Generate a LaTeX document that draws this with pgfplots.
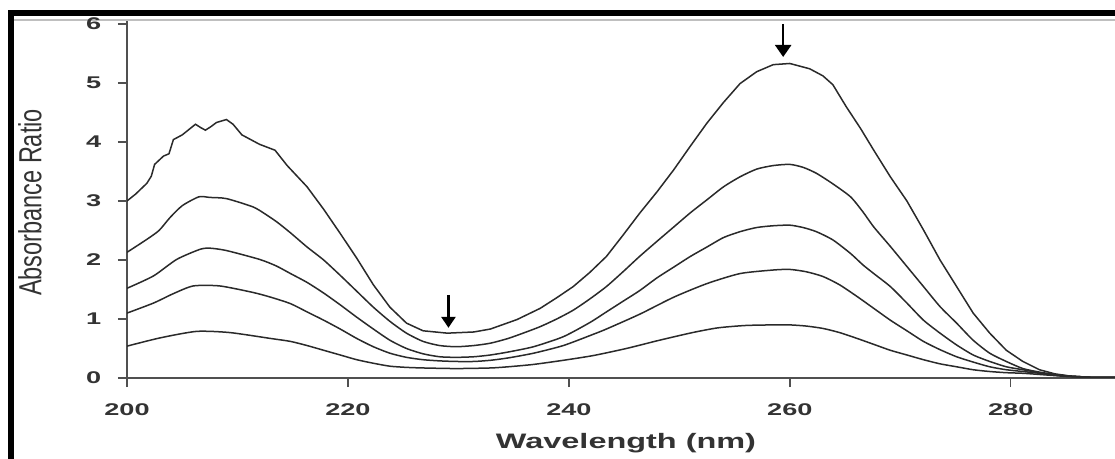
\documentclass[border=0pt]{standalone}
\usepackage{fontspec}
\setmainfont{Liberation Sans}
\usepackage{pgfplots}
\pgfplotsset{compat=1.18}
\usetikzlibrary{arrows.meta}
\definecolor{ln}{HTML}{2A2A2A}
\definecolor{ax}{HTML}{505050}
\begin{document}
\begin{tikzpicture}
\useasboundingbox (0,0) rectangle (1115bp,459bp);
\fill[white] (0,0) rectangle (1115bp,459bp);
% frame
\draw[gray!50, line width=2.5bp] (14bp,438.8bp) -- (1115bp,438.8bp);
\draw[black, line width=6bp] (11bp,0) -- (11bp,445.5bp) -- (1115bp,445.5bp);
\begin{axis}[
  at={(127bp,81bp)}, anchor=south west,
  scale only axis, width=988bp, height=357bp,
  xmin=200, xmax=289.44, ymin=0, ymax=6.05,
  axis x line=bottom, axis y line=left,
  axis line style={-, ax, line width=1.6bp},
  xtick={200,220,240,260,280}, ytick={0,1,2,3,4,5,6},
  tick align=outside, major tick length=9bp,
  tick style={ax, line width=1.4bp},
  /pgf/number format/assume math mode=true,
  tick label style={font=\fontsize{17}{17}\selectfont\bfseries, xscale=1.6, text=black!80},
  xticklabel style={yshift=-13bp},
  yticklabel style={xshift=-7bp},
  clip mode=individual,
]
% curve 1
\addplot[ln, line width=1.5bp, no markers] coordinates {
(200,3.00)(200.8,3.12)(201.8,3.30)(202.2,3.42)(202.5,3.62)(203.3,3.76)(203.8,3.80)(204.2,4.04)
(205.0,4.12)(205.4,4.18)(206.2,4.30)(206.7,4.24)(207.1,4.20)(207.6,4.26)(208.1,4.33)(209.0,4.38)
(209.6,4.30)(210.4,4.12)(211.2,4.04)(212.0,3.96)(213.4,3.86)(214.5,3.60)(216.3,3.24)(217.8,2.86)
(219.3,2.45)(220.8,2.03)(222.3,1.58)(223.8,1.20)(225.3,0.93)(226.8,0.80)(229.0,0.76)(231.4,0.78)
(232.9,0.83)(235.3,0.99)(237.4,1.18)(238.9,1.36)(240.4,1.55)(241.9,1.79)(243.4,2.06)(244.9,2.42)
(246.4,2.79)(248.0,3.16)(249.5,3.53)(251.0,3.93)(252.5,4.32)(254.0,4.67)(255.5,4.99)(257.0,5.19)
(258.5,5.31)(260.0,5.33)(261.8,5.24)(263.0,5.12)(263.9,4.97)(265.1,4.60)(266.4,4.23)(267.6,3.86)
(269.1,3.41)(270.6,3.00)(272.1,2.51)(273.6,2.00)(275.1,1.55)(276.6,1.10)(278.1,0.76)(279.6,0.47)
(281.1,0.28)(282.6,0.14)(284.0,0.07)(285.5,0.03)(287.5,0.01)(289.44,0.01)
};
% curve 2
\addplot[ln, line width=1.5bp, no markers, smooth, tension=0.4] coordinates {
(200,2.13)(201.8,2.35)(202.9,2.50)(203.9,2.72)(205.0,2.92)(206.5,3.07)(207.5,3.06)(209.0,3.04)
(211.4,2.90)(212.5,2.78)(213.6,2.64)(214.8,2.46)(216.3,2.22)(217.8,2.00)(219.3,1.74)(220.8,1.47)
(222.3,1.20)(223.8,0.96)(225.3,0.76)(226.8,0.62)(228.3,0.55)(229.8,0.53)(231.4,0.55)(232.9,0.59)
(234.5,0.67)(236.0,0.77)(237.4,0.87)(238.9,1.00)(240.4,1.15)(241.9,1.34)(243.4,1.55)(244.9,1.80)
(246.4,2.06)(248.0,2.32)(249.5,2.56)(251.0,2.80)(252.5,3.02)(254.0,3.24)(255.5,3.41)(257.0,3.54)
(258.5,3.60)(260.0,3.62)(261.2,3.57)(262.4,3.47)(263.9,3.29)(265.5,3.07)(266.6,2.82)(267.6,2.56)
(269.1,2.23)(270.6,1.89)(272.1,1.55)(273.6,1.21)(275.1,0.93)(276.6,0.64)(278.1,0.42)(279.6,0.28)
(281.1,0.16)(282.6,0.10)(284.0,0.06)(285.5,0.03)(287.5,0.01)(289.44,0.01)
};
% curve 3
\addplot[ln, line width=1.5bp, no markers, smooth, tension=0.4] coordinates {
(200,1.52)(202.4,1.73)(204.5,2.01)(206.6,2.18)(207.5,2.20)(209.0,2.16)(212.0,2.01)(213.5,1.90)
(214.8,1.77)(216.3,1.62)(217.8,1.44)(219.3,1.24)(220.8,1.03)(222.3,0.83)(223.8,0.64)(225.3,0.50)
(226.8,0.41)(228.3,0.36)(229.8,0.35)(231.4,0.36)(232.9,0.39)(234.5,0.44)(236.8,0.53)(239.5,0.70)
(241.9,0.94)(243.4,1.12)(244.9,1.30)(246.4,1.48)(248.0,1.70)(249.5,1.88)(251.0,2.06)(252.5,2.22)
(254.0,2.38)(255.5,2.48)(257.0,2.55)(258.5,2.58)(260.0,2.59)(261.2,2.55)(262.4,2.48)(263.9,2.34)
(265.5,2.11)(266.6,1.92)(267.6,1.77)(269.1,1.55)(270.6,1.27)(272.1,0.98)(273.6,0.76)(275.1,0.56)
(276.6,0.39)(278.1,0.28)(279.6,0.19)(281.1,0.14)(282.6,0.09)(284.0,0.05)(285.5,0.03)(287.5,0.01)
(289.44,0.01)
};
% curve 4
\addplot[ln, line width=1.5bp, no markers, smooth, tension=0.4] coordinates {
(200,1.10)(202.4,1.27)(204.2,1.43)(206.0,1.56)(208.4,1.56)(211.4,1.45)(213.0,1.37)(214.8,1.26)
(216.3,1.12)(217.8,0.98)(219.3,0.83)(220.8,0.67)(222.3,0.53)(223.8,0.42)(225.3,0.35)(226.8,0.31)
(228.3,0.29)(229.8,0.28)(231.4,0.28)(232.9,0.30)(234.5,0.34)(236.8,0.42)(239.5,0.55)(242.2,0.74)
(243.4,0.83)(246.4,1.08)(249.5,1.37)(252.5,1.60)(255.5,1.77)(258.5,1.83)(260.0,1.84)(261.5,1.80)
(263.0,1.72)(264.5,1.58)(266.1,1.38)(267.6,1.18)(269.1,0.98)(270.6,0.80)(272.1,0.62)(273.6,0.48)
(275.1,0.36)(276.6,0.27)(278.1,0.19)(279.6,0.14)(281.1,0.11)(282.6,0.08)(284.0,0.05)(285.5,0.03)
(287.5,0.01)(289.44,0.01)
};
% curve 5
\addplot[ln, line width=1.5bp, no markers, smooth, tension=0.4] coordinates {
(200,0.54)(203.0,0.68)(206.3,0.79)(209.3,0.77)(213.0,0.67)(214.8,0.62)(216.3,0.55)(217.8,0.47)
(219.3,0.39)(220.8,0.31)(222.3,0.25)(223.8,0.20)(225.3,0.18)(226.8,0.17)(229.8,0.16)(232.9,0.17)
(234.5,0.19)(236.8,0.23)(239.5,0.30)(242.2,0.38)(245.2,0.50)(248.2,0.64)(251.2,0.77)(253.5,0.85)
(256.0,0.89)(258.5,0.90)(260.0,0.90)(261.5,0.88)(263.0,0.84)(264.5,0.77)(266.1,0.67)(267.6,0.57)
(269.1,0.47)(270.6,0.39)(272.1,0.31)(273.6,0.24)(275.1,0.19)(276.6,0.14)(278.1,0.11)(279.6,0.09)
(281.1,0.08)(282.6,0.06)(284.0,0.04)(285.5,0.02)(287.5,0.01)(289.44,0.01)
};
\draw[black, line width=2.4bp, -{Triangle[width=14bp,length=11bp]}] (axis cs:229.1,1.41) -- (axis cs:229.1,0.85);
\draw[black, line width=2.4bp, -{Triangle[width=16bp,length=12bp]}] (axis cs:259.4,6.0) -- (axis cs:259.4,5.44);
\end{axis}
% labels
\node[font=\fontsize{21}{21}\selectfont\bfseries, xscale=1.55, text=black!80] at (626bp,16bp) {Wavelength (nm)};
\node[font=\fontsize{23.6}{24}\selectfont, rotate=90, text=black!80] at (30bp,256.5bp) {\scalebox{1}[1.36]{Absorbance Ratio}};
\end{tikzpicture}
\end{document}
